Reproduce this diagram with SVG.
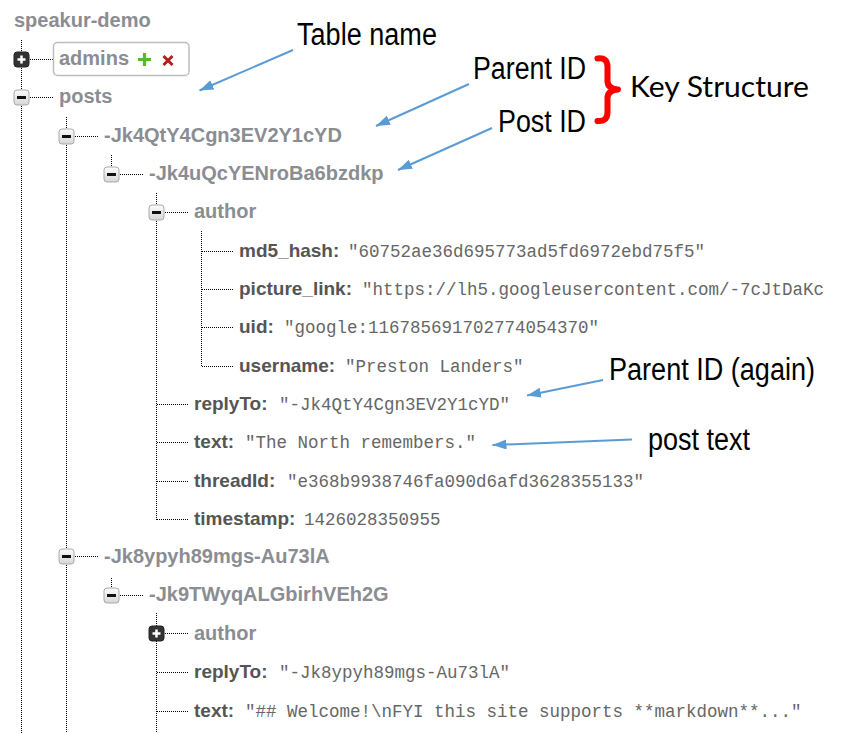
<svg xmlns="http://www.w3.org/2000/svg" xmlns:xlink="http://www.w3.org/1999/xlink" width="855" height="733" viewBox="0 0 855 733">
<style>
.nm{font-family:"Liberation Sans",Arial,sans-serif;font-weight:bold;font-size:20px;fill:#8a8d92}
.key{font-family:"Liberation Sans",Arial,sans-serif;font-weight:bold;font-size:19px;fill:#555}
.val{font-family:"Liberation Mono","DejaVu Sans Mono",monospace;font-size:17.5px;fill:#666}
.ann{font-family:"Liberation Sans",Arial,sans-serif;font-size:31px;fill:#000}
.ks{font-family:Lato,"Open Sans",sans-serif;font-size:28px;fill:#000}
.dot{stroke:#000;stroke-width:1;stroke-dasharray:1 1;fill:none;shape-rendering:crispEdges}
.arr{stroke:#5b9bd5;stroke-width:2;fill:none;marker-end:url(#ah)}
</style>
<defs>
<linearGradient id="mg" x1="0" y1="0" x2="0" y2="1">
<stop offset="0" stop-color="#fdfdfd"/>
<stop offset="1" stop-color="#d6d6d6"/>
</linearGradient>
<g id="minus">
<rect x="-7.5" y="-7.5" width="15" height="15" rx="3" fill="url(#mg)" stroke="#a9a9a9" stroke-width="1"/>
<rect x="-4.5" y="-1.5" width="9" height="3" fill="#111"/>
</g>
<g id="plus">
<rect x="-7.5" y="-7.5" width="15" height="15" rx="3" fill="#333" stroke="#222" stroke-width="1"/>
<rect x="-4" y="-1.25" width="8" height="2.5" fill="#fff"/>
<rect x="-1.25" y="-4" width="2.5" height="8" fill="#fff"/>
</g>
<marker id="ah" markerUnits="userSpaceOnUse" markerWidth="15" markerHeight="11" refX="14" refY="5" orient="auto">
<path d="M0,0 L14,5 L0,10 z" fill="#5b9bd5"/>
</marker>
</defs>
<rect width="855" height="733" fill="#fff"/>

<g id="connectors">
<line class="dot" x1="21.5" y1="40" x2="21.5" y2="733"/>
<line class="dot" x1="66.5" y1="117" x2="66.5" y2="733"/>
<line class="dot" x1="111.5" y1="155" x2="111.5" y2="167"/>
<line class="dot" x1="111.5" y1="578" x2="111.5" y2="588"/>
<line class="dot" x1="156.5" y1="193" x2="156.5" y2="520"/>
<line class="dot" x1="156.5" y1="613" x2="156.5" y2="733"/>
<line class="dot" x1="201.5" y1="231" x2="201.5" y2="367"/>
<line class="dot" x1="30" y1="59.5" x2="53" y2="59.5"/>
<line class="dot" x1="30" y1="97.5" x2="53" y2="97.5"/>
<line class="dot" x1="75" y1="136.5" x2="98" y2="136.5"/>
<line class="dot" x1="120" y1="174.5" x2="143" y2="174.5"/>
<line class="dot" x1="165" y1="212.5" x2="188" y2="212.5"/>
<line class="dot" x1="202" y1="251.5" x2="233" y2="251.5"/>
<line class="dot" x1="202" y1="289.5" x2="233" y2="289.5"/>
<line class="dot" x1="202" y1="327.5" x2="233" y2="327.5"/>
<line class="dot" x1="202" y1="366.5" x2="233" y2="366.5"/>
<line class="dot" x1="157" y1="404.5" x2="188" y2="404.5"/>
<line class="dot" x1="157" y1="442.5" x2="188" y2="442.5"/>
<line class="dot" x1="157" y1="481.5" x2="188" y2="481.5"/>
<line class="dot" x1="157" y1="519.5" x2="188" y2="519.5"/>
<line class="dot" x1="75" y1="556.5" x2="98" y2="556.5"/>
<line class="dot" x1="120" y1="595.5" x2="143" y2="595.5"/>
<line class="dot" x1="165" y1="633.5" x2="188" y2="633.5"/>
<line class="dot" x1="157" y1="672.5" x2="188" y2="672.5"/>
<line class="dot" x1="157" y1="711.5" x2="188" y2="711.5"/>
<line class="arr" x1="293" y1="50" x2="199.5" y2="90.5"/>
<line class="arr" x1="469" y1="84" x2="376" y2="126"/>
<line class="arr" x1="492" y1="128" x2="398" y2="170"/>
<line class="arr" x1="603" y1="380" x2="527" y2="395.5"/>
<line class="arr" x1="632" y1="439.5" x2="492.5" y2="445"/>
</g>

<g id="node-root"><text class="nm" x="14" y="26.7">speakur-demo</text></g>
<g id="node-admins">
<use href="#plus" x="21.5" y="59.5"/>
<rect x="53.5" y="42.5" width="135.5" height="33" rx="4" fill="#fff" stroke="#bdbdbd" stroke-width="1.5"/>
<text class="nm" x="59" y="65">admins</text>
<path d="M144.5,53 V66 M138,59.5 H151" stroke="#5cb82a" stroke-width="3.2" fill="none"/>
<path d="M163.5,56 L172.5,65 M172.5,56 L163.5,65" stroke="#b0201d" stroke-width="3" fill="none"/>
</g>
<g id="node-posts"><use href="#minus" x="21.5" y="97.5"/><text class="nm" x="59" y="103.4">posts</text></g>
<g id="node-parent1"><use href="#minus" x="66.5" y="136.5"/><text class="nm" x="104" y="141.7">-Jk4QtY4Cgn3EV2Y1cYD</text></g>
<g id="node-post1"><use href="#minus" x="111.5" y="174.5"/><text class="nm" x="149" y="180">-Jk4uQcYENroBa6bzdkp</text></g>
<g id="node-author1"><use href="#minus" x="156.5" y="212.5"/><text class="nm" x="194" y="218.4">author</text></g>
<g id="node-md5"><text class="key" x="239" y="256.7">md5_hash:</text><text class="val" x="348" y="256.7">"60752ae36d695773ad5fd6972ebd75f5"</text></g>
<g id="node-picture"><text class="key" x="239" y="295">picture_link:</text><text class="val" x="362" y="295">"https://lh5.googleusercontent.com/-7cJtDaKc</text></g>
<g id="node-uid"><text class="key" x="239" y="333.3">uid:</text><text class="val" x="284" y="333.3">"google:116785691702774054370"</text></g>
<g id="node-username"><text class="key" x="239" y="371.7">username:</text><text class="val" x="345" y="371.7">"Preston Landers"</text></g>
<g id="node-replyto1"><text class="key" x="194" y="410">replyTo:</text><text class="val" x="279" y="410">"-Jk4QtY4Cgn3EV2Y1cYD"</text></g>
<g id="node-text1"><text class="key" x="194" y="448.3">text:</text><text class="val" x="245" y="448.3">"The North remembers."</text></g>
<g id="node-thread1"><text class="key" x="194" y="486.7">threadId:</text><text class="val" x="287" y="486.7">"e368b9938746fa090d6afd3628355133"</text></g>
<g id="node-ts1"><text class="key" x="194" y="525">timestamp:</text><text class="val" x="304" y="525">1426028350955</text></g>
<g id="node-parent2"><use href="#minus" x="66.5" y="556.5"/><text class="nm" x="104" y="563">-Jk8ypyh89mgs-Au73lA</text></g>
<g id="node-post2"><use href="#minus" x="111.5" y="595.5"/><text class="nm" x="149" y="601.3">-Jk9TWyqALGbirhVEh2G</text></g>
<g id="node-author2"><use href="#plus" x="156.5" y="633.5"/><text class="nm" x="194" y="640">author</text></g>
<g id="node-replyto2"><text class="key" x="194" y="678.3">replyTo:</text><text class="val" x="279" y="678.3">"-Jk8ypyh89mgs-Au73lA"</text></g>
<g id="node-text2"><text class="key" x="194" y="716.6">text:</text><text class="val" x="245" y="716.6">"## Welcome!\nFYI this site supports **markdown**..."</text></g>

<g id="annotations">
<text class="ann" x="297" y="45" textLength="140" lengthAdjust="spacingAndGlyphs">Table name</text>
<text class="ann" x="473" y="79" textLength="113" lengthAdjust="spacingAndGlyphs">Parent ID</text>
<text class="ann" x="498" y="131.5" textLength="88" lengthAdjust="spacingAndGlyphs">Post ID</text>
<text class="ks" x="630" y="97.3" textLength="179" lengthAdjust="spacingAndGlyphs">Key Structure</text>
<text class="ann" x="609" y="380" textLength="206" lengthAdjust="spacingAndGlyphs">Parent ID (again)</text>
<text class="ann" x="648" y="450" textLength="102" lengthAdjust="spacingAndGlyphs">post text</text>
<path d="M597.5,58.5 Q607.5,57 607.5,67 L607.5,81 Q607.5,88.5 618,89.5 Q607.5,90.5 607.5,98 L607.5,112 Q607.5,122 597.5,121" stroke="#ff0000" stroke-width="6" stroke-linecap="round" stroke-linejoin="round" fill="none"/>
</g>
</svg>
